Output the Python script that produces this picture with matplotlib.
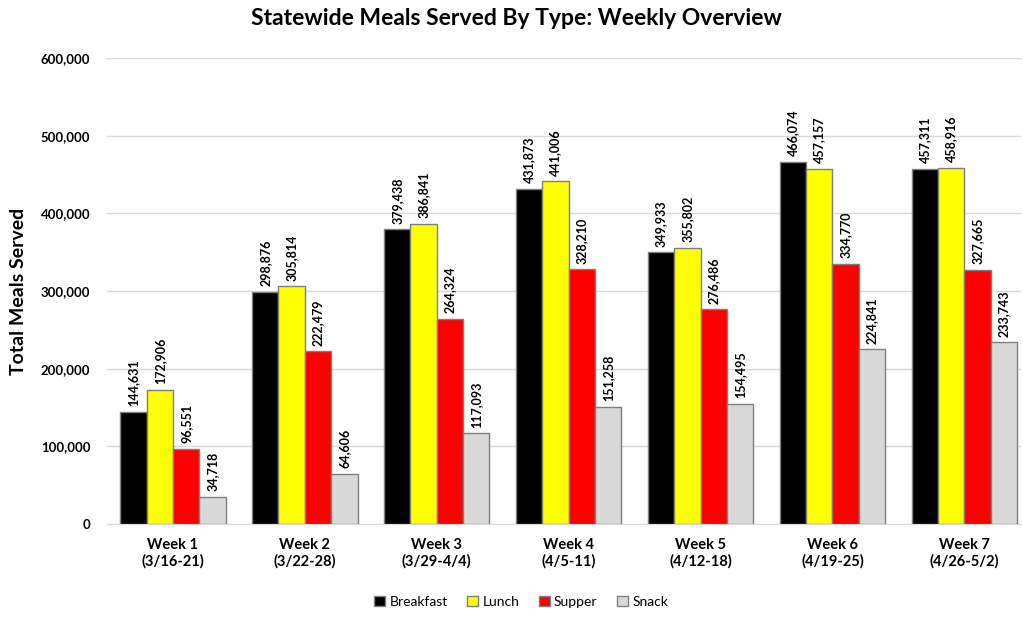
import numpy as np
import matplotlib
matplotlib.use("Agg")
from matplotlib import pyplot as plt
from matplotlib.ticker import FuncFormatter

plt.rcParams['font.family'] = ['Lato', 'DejaVu Sans']

weeks = ["Week 1\n(3/16-21)", "Week 2\n(3/22-28)", "Week 3\n(3/29-4/4)", "Week 4\n(4/5-11)",
         "Week 5\n(4/12-18)", "Week 6\n(4/19-25)", "Week 7\n(4/26-5/2)"]
breakfast = [144631, 298876, 379438, 431873, 349933, 466074, 457311]
lunch = [172906, 305814, 386841, 441006, 355802, 457157, 458916]
supper = [96551, 222479, 264324, 328210, 276486, 334770, 327665]
snack = [34718, 64606, 117093, 151258, 154495, 224841, 233743]

series = [("Breakfast", breakfast, "#000000"),
          ("Lunch", lunch, "#ffff00"),
          ("Supper", supper, "#ff0000"),
          ("Snack", snack, "#d9d9d9")]

fig = plt.figure(figsize=(10.23, 6.25), dpi=100)
ax = fig.add_axes([107/1023, 1 - 524/625, (1021 - 107)/1023, (524 - 58)/625])

x = np.arange(len(weeks))
w = 0.2
for i, (name, vals, col) in enumerate(series):
    pos = x + (i - 1.5) * w
    ax.bar(pos, vals, w, color=col, edgecolor="#7f7f7f", linewidth=1, label=name, zorder=3)
    for px, v in zip(pos, vals):
        ax.annotate(f"{v:,}", (px, v), xytext=(0, 4), textcoords="offset points",
                    rotation=90, ha="center", va="bottom", fontsize=9, fontweight="bold")

ax.set_ylim(0, 600000)
ax.set_xlim(-0.5, 6.43)
ax.set_yticks(np.arange(0, 600001, 100000))
ax.yaxis.set_major_formatter(FuncFormatter(lambda v, p: f"{int(v):,}"))
ax.set_xticks(x)
ax.set_xticklabels(weeks, fontsize=10.5, fontweight="bold")
for lab in ax.get_yticklabels():
    lab.set_fontweight("bold")
    lab.set_fontsize(9.5)
ax.tick_params(length=0, pad=12)
ax.tick_params(axis="x", pad=10)
ax.grid(axis="y", color="#d9d9d9", linewidth=1, zorder=0)
for s in ["top", "right", "left"]:
    ax.spines[s].set_visible(False)
ax.spines["bottom"].set_color("#d9d9d9")

ax.set_ylabel("Total Meals Served", fontsize=14, fontweight="bold", labelpad=10)
fig.text(0.505, 0.970, "Statewide Meals Served By Type: Weekly Overview",
         ha="center", va="center", fontsize=16.5, fontweight="bold")

ax.legend(loc="upper center", bbox_to_anchor=(0.453, -0.127), ncol=4, frameon=False,
          fontsize=10, handlelength=0.8, handleheight=0.8, handletextpad=0.3, columnspacing=1.4)

fig.savefig("out.png", dpi=100)
